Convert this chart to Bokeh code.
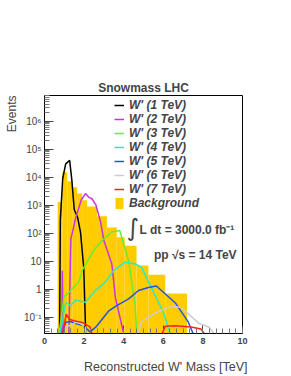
import numpy as np
from bokeh.plotting import figure
from bokeh.models import Range1d, FixedTicker, Label, Legend, LegendItem, Title
from bokeh.embed import file_html
from bokeh.resources import INLINE

# ---------------- data ----------------
bkg_edges = [0.665, 0.9, 1.15, 1.4, 1.65, 1.9, 2.15, 2.65, 3.15, 3.65, 4.05, 4.65, 5.25, 6.1, 7.2]
bkg_counts = [1300, 15000, 7200, 4400, 2600, 1500, 900, 400, 160, 72, 36, 7, 3.3, 0.7]

w1_x = [0.76, 0.8, 0.92, 1.07, 1.27, 1.38, 1.5, 1.67, 1.82, 1.98, 2.1]
w1_y = [0.01, 300, 9000, 30000, 40000, 8000, 700, 370, 107, 6, 0.01]

w2_x = [0.86, 0.9, 0.94, 1.22, 1.33, 1.55, 1.85, 2.07, 2.25, 2.4, 2.6, 2.82, 3.0, 3.4, 3.58, 3.98]
w2_y = [0.01, 4.6, 0.01, 0.01, 60, 300, 1500, 2600, 1900, 1700, 1000, 280, 55, 8, 0.5, 0.03]

w3_x = [0.65, 0.82, 0.98, 1.23, 1.73, 1.9, 2.48, 2.9, 3.4, 3.8, 4.25, 4.57, 4.7]
w3_y = [0.01, 0.07, 0.52, 0.78, 1.8, 4.6, 24, 55, 110, 125, 10, 0.3, 0.01]

w4_x = [0.65, 0.9, 1.07, 1.32, 1.57, 2.07, 2.57, 3.07, 3.48, 4.07, 4.6, 4.9, 6.0, 6.55]
w4_y = [0.01, 0.07, 0.34, 0.26, 0.4, 0.34, 0.9, 1.8, 4.6, 9.2, 8, 6, 0.15, 0.01]

w5_x = [0.75, 1.07, 1.32, 1.57, 1.95, 2.3, 2.6, 3.25, 3.65, 4.25, 4.75, 5.25, 5.65, 6.6, 7.25, 7.75]
w5_y = [0.01, 0.066, 0.07, 0.06, 0.05, 0.03, 0.045, 0.17, 0.26, 0.45, 0.9, 1.15, 1.3, 0.33, 0.07, 0.01]

w6_x = [0.9, 1.1, 1.3, 1.57, 1.8, 2.05, 2.2, 4.55, 4.9, 5.5, 6.2, 6.6, 6.9, 7.8, 8.3, 9.0]
w6_y = [0.01, 0.05, 0.05, 0.066, 0.06, 0.045, 0.01, 0.01, 0.07, 0.13, 0.22, 0.24, 0.22, 0.06, 0.045, 0.01]

w7_x = [0.8, 1.1, 1.25, 1.5, 1.9, 2.3, 2.55, 5.7, 6.1, 6.6, 7.4, 7.9, 8.5]
w7_y = [0.01, 0.13, 0.085, 0.075, 0.065, 0.045, 0.01, 0.01, 0.048, 0.05, 0.045, 0.038, 0.01]

signal_labels = ["W' (1 TeV)", "W' (2 TeV)", "W' (3 TeV)", "W' (4 TeV)",
                 "W' (5 TeV)", "W' (6 TeV)", "W' (7 TeV)"]
bkg_label = "Background"

x_ticks = [0, 2, 4, 6, 8, 10]
y_ticks = [0.1, 1.0, 10.0, 100.0, 1e3, 1e4, 1e5, 1e6]
y_tick_labels = ["10\u207b\u00b9", "1", "10", "10\u00b2", "10\u00b3", "10\u2074", "10\u2075", "10\u2076"]

# ---------------- styles ----------------
colors = ["#000000", "#cc33dd", "#66ee33", "#2ee8c0", "#2255dd", "#cccccc", "#ff2222"]
bkg_color = "#ffcc00"
FONT = "Liberation Sans"

p = figure(width=283, height=375, output_backend="svg", toolbar_location=None,
           y_axis_type="log", x_range=Range1d(0, 10), y_range=Range1d(0.0262, 8.28e6),
           min_border_left=42, min_border_right=41, min_border_top=95, min_border_bottom=42)
p.grid.visible = False
p.outline_line_color = "black"
p.outline_line_width = 1
p.background_fill_color = "white"
p.border_fill_color = "white"

p.title.text = "Snowmass LHC"
p.title.align = "center"
p.title.offset = 4
p.title.standoff = 1
p.title.text_font = FONT
p.title.text_font_style = "bold"
p.title.text_font_size = "12px"

p.add_layout(Title(text="Events", align="right", text_font=FONT, text_font_style="normal",
                   text_font_size="12px", standoff=5), "left")
# small blank spacer between the x axis and its title
p.add_layout(Title(text=" ", text_font_size="8px", standoff=0), "below")
p.add_layout(Title(text="Reconstructed W' Mass [TeV]", align="right", offset=-5, text_font=FONT,
                   text_font_style="normal", text_font_size="12.5px", standoff=0), "below")

# background histogram
bkg = p.quad(left=bkg_edges[:-1], right=bkg_edges[1:], top=bkg_counts,
             bottom=[1e-4] * len(bkg_counts), fill_color=bkg_color, line_color=None)

series = [(w1_x, w1_y), (w2_x, w2_y), (w3_x, w3_y), (w4_x, w4_y),
          (w5_x, w5_y), (w6_x, w6_y), (w7_x, w7_y)]
renderers = []
for (xs, ys), c in zip(series, colors):
    renderers.append(p.line(xs, ys, line_color=c, line_width=1.5))

# axes
p.xaxis.ticker = FixedTicker(ticks=x_ticks, minor_ticks=[i / 3 for i in range(31)])
p.xaxis.major_tick_in = 8
p.xaxis.major_tick_out = 0
p.xaxis.minor_tick_in = 5
p.xaxis.minor_tick_out = 0
p.xaxis.major_label_text_font = FONT
p.xaxis.major_label_text_font_style = "bold"
p.xaxis.major_label_text_font_size = "9px"
p.xaxis.major_label_standoff = 4

minor_y = [k * 10.0 ** e for e in range(-2, 7) for k in range(2, 10)]
p.yaxis.ticker = FixedTicker(ticks=y_ticks, minor_ticks=minor_y)
p.yaxis.major_label_overrides = dict(zip(y_ticks, y_tick_labels))
p.yaxis.major_tick_in = 9
p.yaxis.major_tick_out = 0
p.yaxis.minor_tick_in = 5
p.yaxis.minor_tick_out = 0
p.yaxis.major_label_text_font = FONT
p.yaxis.major_label_text_font_size = "10px"
p.yaxis.major_label_standoff = 3
for ax in (p.xaxis, p.yaxis):
    ax.axis_line_color = "black"
    ax.major_tick_line_color = "#444444"
    ax.minor_tick_line_color = "#777777"

# legend
items = [LegendItem(label=lab, renderers=[r]) for lab, r in zip(signal_labels, renderers)]
items.append(LegendItem(label=bkg_label, renderers=[bkg]))
legend = Legend(items=items, location=(70, 123), padding=0, margin=0, spacing=0,
                glyph_width=10, glyph_height=14, label_height=14, label_standoff=5,
                border_line_alpha=0, background_fill_alpha=0,
                label_text_font=FONT, label_text_font_style="bold italic",
                label_text_font_size="12px")
p.add_layout(legend)

# texts inside the frame
p.add_layout(Label(x=4.475, y=158, text="\u222b", text_align="center",
                   text_baseline="middle", text_font="DejaVu Sans", text_font_size="24px"))
p.add_layout(Label(x=4.8, y=125, text="L dt = 3000.0 fb\u207b\u00b9", text_align="left",
                   text_baseline="middle", text_font=FONT, text_font_style="bold",
                   text_font_size="12px"))
p.add_layout(Label(x=5.525, y=16, text="pp \u221as = 14 TeV", text_align="left",
                   text_baseline="middle", text_font=FONT, text_font_style="bold",
                   text_font_size="12px"))

open("out.html", "w").write(file_html(p, INLINE))
